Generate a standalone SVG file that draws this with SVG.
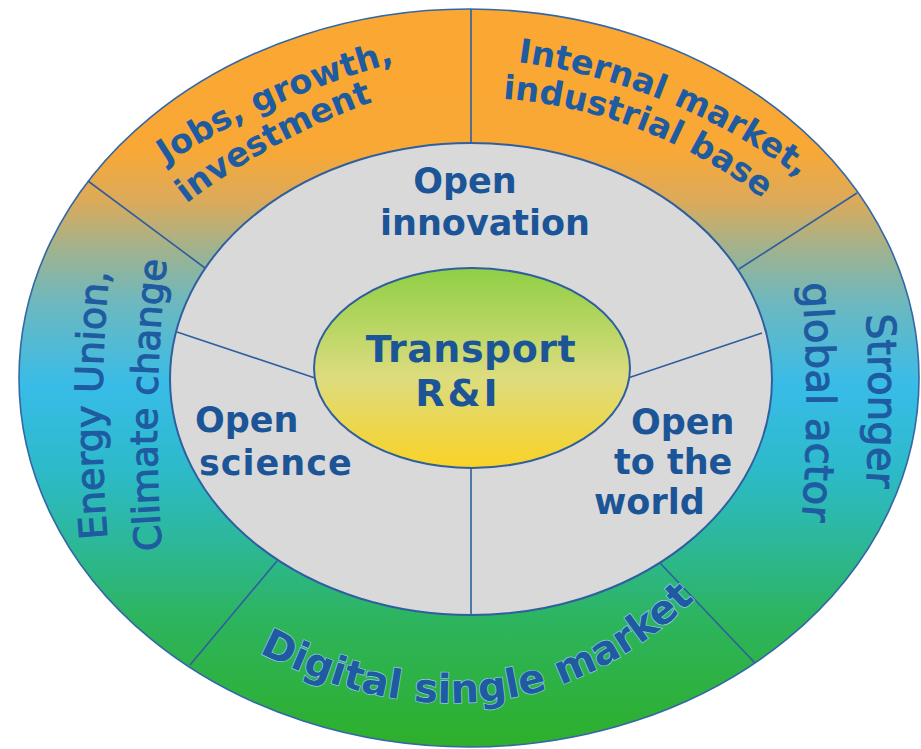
<svg xmlns="http://www.w3.org/2000/svg" xmlns:xlink="http://www.w3.org/1999/xlink" width="921" height="749" viewBox="0 0 921 749">
<defs>
<linearGradient id="ringGrad" gradientUnits="userSpaceOnUse" x1="0" y1="8" x2="0" y2="748">
<stop offset="0" stop-color="#FBA733"/>
<stop offset="0.19" stop-color="#F9A835"/>
<stop offset="0.26" stop-color="#DCAA5A"/>
<stop offset="0.33" stop-color="#9DB391"/>
<stop offset="0.40" stop-color="#6CB8C0"/>
<stop offset="0.51" stop-color="#38BCE8"/>
<stop offset="0.62" stop-color="#2DBACB"/>
<stop offset="0.72" stop-color="#2CB89A"/>
<stop offset="0.83" stop-color="#2DB45C"/>
<stop offset="1" stop-color="#2EAF2A"/>
</linearGradient>
<linearGradient id="coreGrad" x1="0" y1="0" x2="0" y2="1">
<stop offset="0" stop-color="#8FCF45"/>
<stop offset="0.55" stop-color="#DDDC7E"/>
<stop offset="1" stop-color="#F9D226"/>
</linearGradient>
<path id="pJobs1" d="M163,166 A800,800 0 0 1 398,62"/>
<path id="pJobs2" d="M182,207 A700,700 0 0 1 378,100"/>
<path id="pInt1" d="M517,62 A600,600 0 0 1 800,178"/>
<path id="pInt2" d="M506,99 A480,480 0 0 1 760,197"/>
<path id="pEn1" d="M108,548 A1500,1500 0 0 1 110,262"/>
<path id="pEn2" d="M162,553 A1500,1500 0 0 1 167,257"/>
<path id="pSt1" d="M866,310 A1500,1500 0 0 1 866,492"/>
<path id="pSt2" d="M802,282 A1500,1500 0 0 1 802,522"/>
<path id="pDig" d="M258,652 Q360,705 460,703 Q600,700 712,582"/>
</defs>
<style>
.edge{stroke:#2F5F9E;stroke-width:1.6;fill:none}
.lbl{font-family:"DejaVu Sans","Verdana",sans-serif;font-weight:bold;fill:#1C5597}
.inner{font-size:35px}
.core{font-size:38px}
.top{font-size:33.5px;fill:#1F5BA0}
.side{font-weight:normal;fill:#1F5BA0;stroke:#1F5BA0;stroke-width:1.1}
.s37{font-size:37px}
.s38{font-size:38px}
.s40{font-size:40px}
.dig{font-size:40px;fill:#1F5BA0;stroke:#93D0EC;stroke-width:1.4;paint-order:stroke}
</style>
<g id="ring">
<ellipse cx="469" cy="378" rx="450" ry="369" fill="url(#ringGrad)" stroke="#3467A6" stroke-width="1.6"/>
</g>
<g id="grey-disc">
<ellipse cx="471" cy="379" rx="301" ry="236" fill="#D9D9D9" stroke="#2F5F9E" stroke-width="2"/>
</g>
<g id="connectors">
<line class="edge" x1="471" y1="9" x2="471" y2="143"/>
<line class="edge" x1="88" y1="181" x2="205" y2="268"/>
<line class="edge" x1="857" y1="193" x2="739" y2="269"/>
<line class="edge" x1="277" y1="561" x2="190" y2="665"/>
<line class="edge" x1="660" y1="563" x2="755" y2="663"/>
<line class="edge" x1="177" y1="332" x2="315" y2="378"/>
<line class="edge" x1="762" y1="333" x2="628" y2="378"/>
<line class="edge" x1="471" y1="468" x2="471" y2="615"/>
</g>
<g id="core">
<ellipse cx="472" cy="368" rx="158" ry="100" fill="url(#coreGrad)" stroke="#2F5F9E" stroke-width="2"/>
<text class="lbl core" text-anchor="middle" x="471" y="362" letter-spacing="0.5">Transport</text>
<text class="lbl core" text-anchor="middle" x="458" y="406" letter-spacing="3">R&amp;I</text>
</g>
<g id="open-innovation">
<text class="lbl inner" text-anchor="middle" x="465" y="193">Open</text>
<text class="lbl inner" text-anchor="middle" x="485" y="235">innovation</text>
</g>
<g id="open-science">
<text class="lbl inner" x="195" y="432">Open</text>
<text class="lbl inner" x="199" y="475" letter-spacing="1">science</text>
</g>
<g id="open-world">
<text class="lbl inner" x="631" y="434">Open</text>
<text class="lbl inner" x="614" y="474">to the</text>
<text class="lbl inner" x="594" y="514">world</text>
</g>
<g id="jobs">
<text class="lbl top"><textPath xlink:href="#pJobs1" href="#pJobs1" startOffset="50%" text-anchor="middle">Jobs, growth,</textPath></text>
<text class="lbl top"><textPath xlink:href="#pJobs2" href="#pJobs2" startOffset="50%" text-anchor="middle">investment</textPath></text>
</g>
<g id="internal-market">
<text class="lbl top"><textPath xlink:href="#pInt1" href="#pInt1" startOffset="50%" text-anchor="middle">Internal market,</textPath></text>
<text class="lbl top"><textPath xlink:href="#pInt2" href="#pInt2" startOffset="50%" text-anchor="middle">industrial base</textPath></text>
</g>
<g id="energy-union">
<text class="lbl side s38"><textPath xlink:href="#pEn1" href="#pEn1" startOffset="50%" text-anchor="middle">Energy Union,</textPath></text>
<text class="lbl side s37"><textPath xlink:href="#pEn2" href="#pEn2" startOffset="50%" text-anchor="middle">Climate change</textPath></text>
</g>
<g id="global-actor">
<text class="lbl side s40"><textPath xlink:href="#pSt1" href="#pSt1" startOffset="50%" text-anchor="middle">Stronger</textPath></text>
<text class="lbl side s40"><textPath xlink:href="#pSt2" href="#pSt2" startOffset="50%" text-anchor="middle">global actor</textPath></text>
</g>
<g id="digital-market">
<text class="lbl dig"><textPath xlink:href="#pDig" href="#pDig" startOffset="1">Digital single market</textPath></text>
</g>
</svg>
